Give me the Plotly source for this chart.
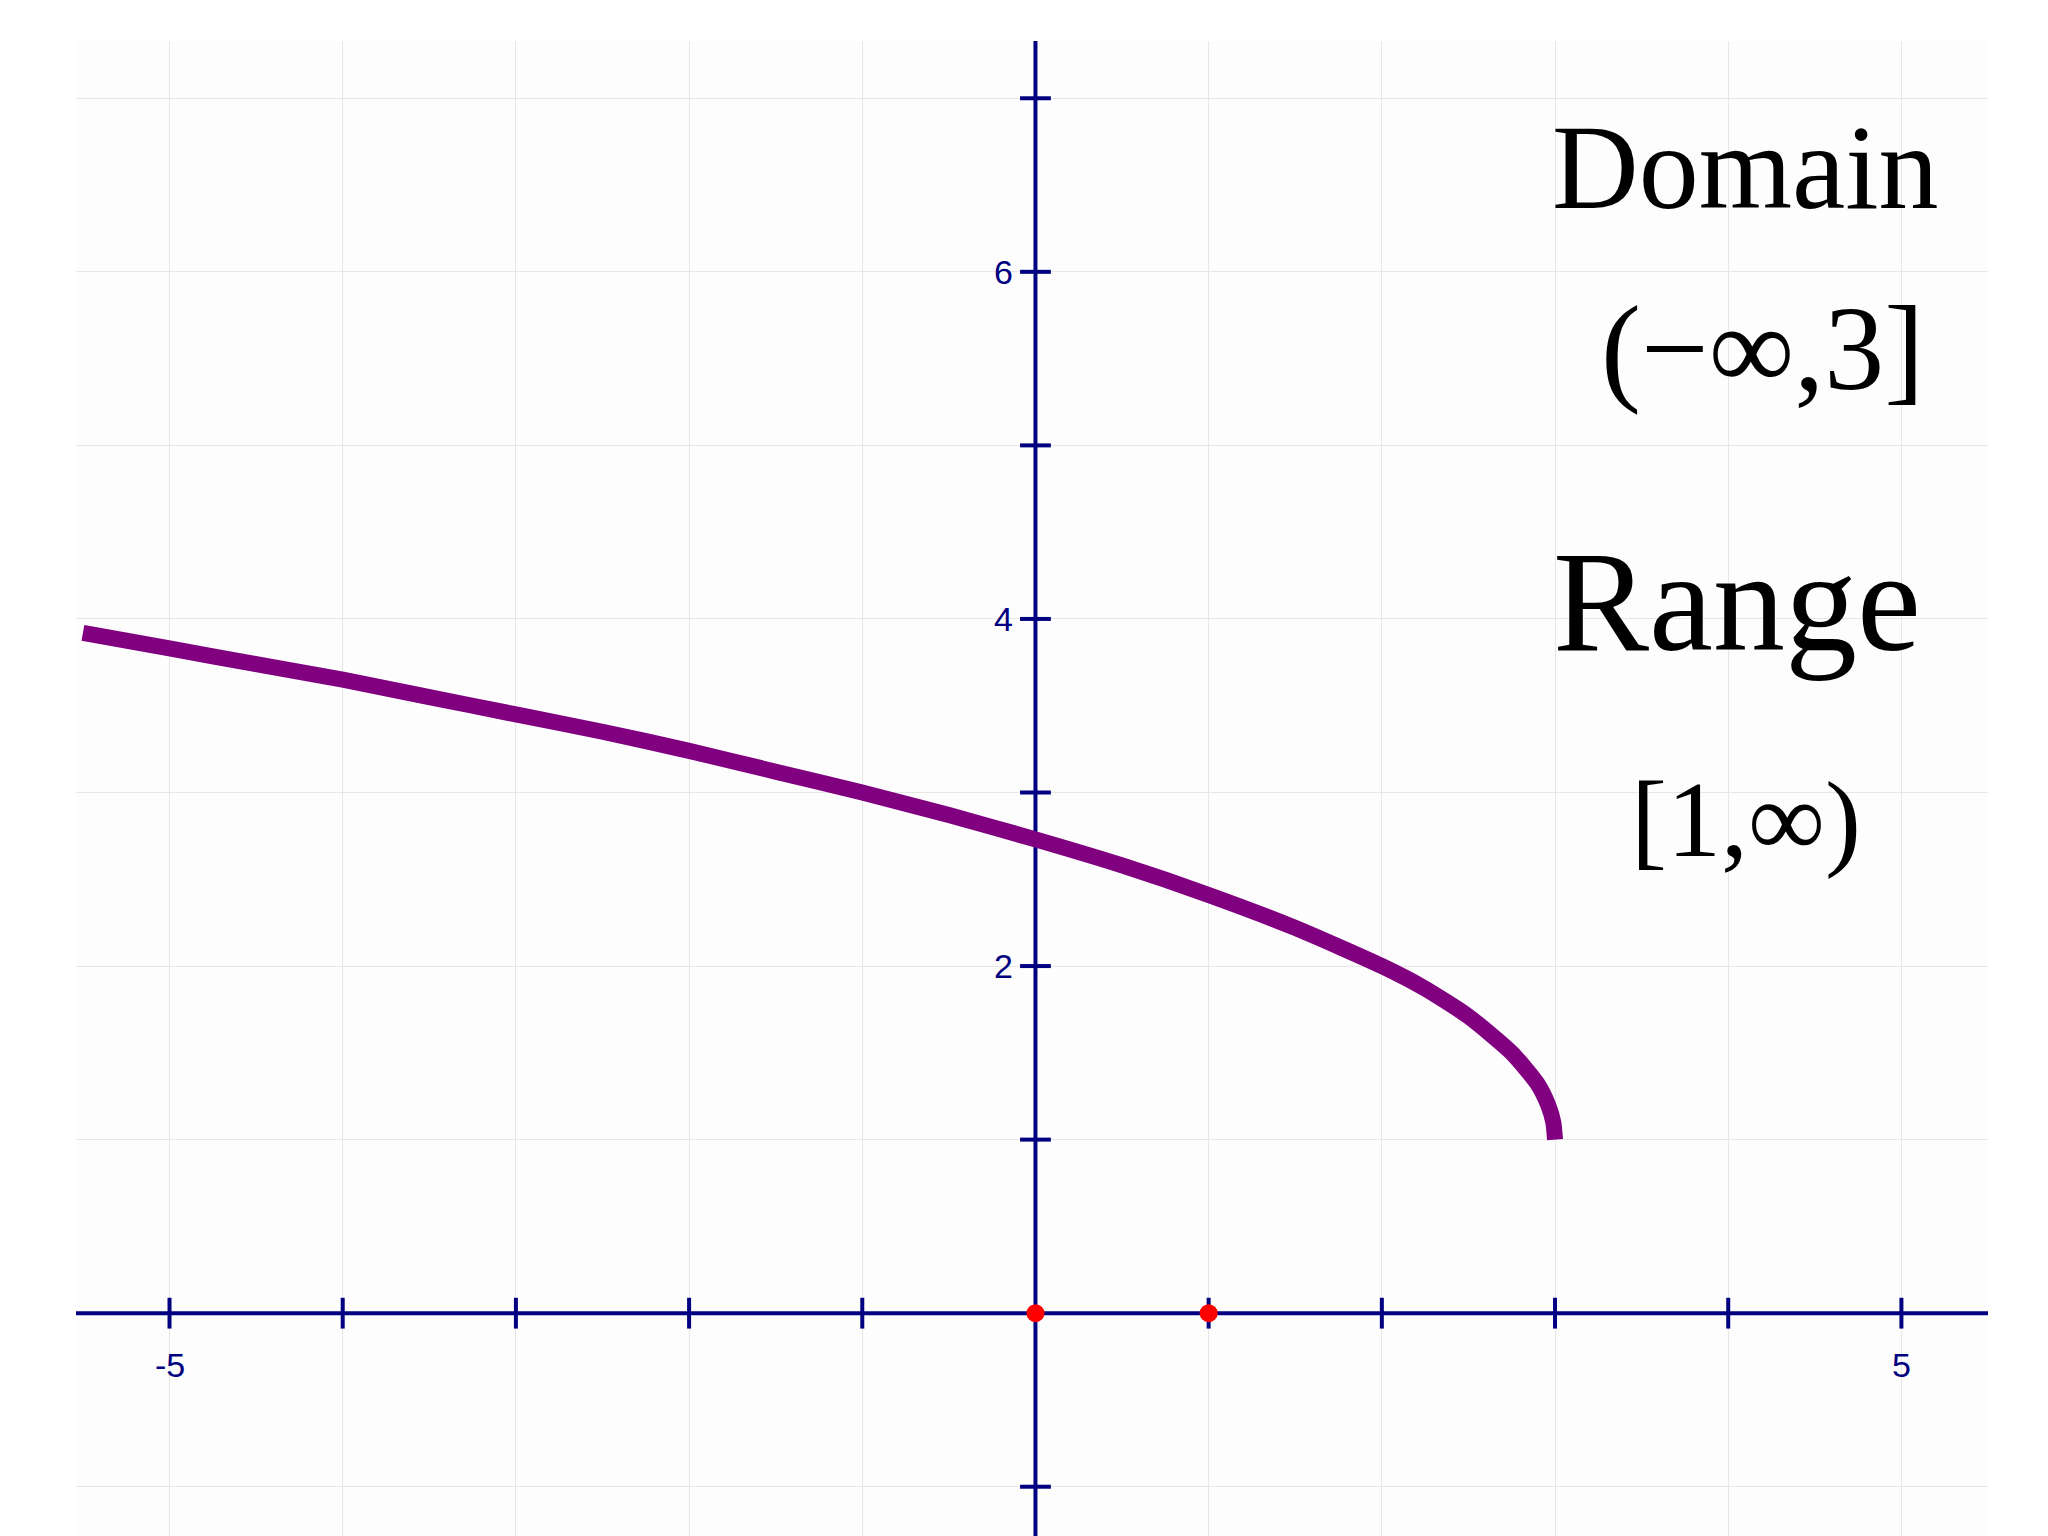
import plotly.graph_objects as go

curve_x = [-5.5,-5,-4.5,-4,-3.5,-3,-2.5,-2,-1.5,-1,-0.5,0,0.5,1,1.5,2,2.25,2.5,2.75,2.9,2.96,2.99,3]
curve_y = [3.92,3.83,3.74,3.65,3.55,3.45,3.35,3.24,3.12,3.00,2.87,2.73,2.58,2.41,2.22,2.00,1.87,1.71,1.50,1.32,1.20,1.10,1.00]
pts_x = [0, 1]
pts_y = [0, 0]
xticks = [-5,-4,-3,-2,-1,1,2,3,4,5]
yticks = [-1,1,2,3,4,5,6,7]
xlabels = {-5: "-5", 5: "5"}
ylabels = {2: "2", 4: "4", 6: "6"}

navy = "#000080"
fig = go.Figure()
fig.add_trace(go.Scatter(x=[-5.54,5.5], y=[0,0], mode="lines", line=dict(color=navy, width=4), hoverinfo="skip"))
fig.add_trace(go.Scatter(x=[0,0], y=[-1.35,7.35], mode="lines", line=dict(color=navy, width=4), hoverinfo="skip"))
fig.add_trace(go.Scatter(x=xticks, y=[0]*len(xticks), mode="markers",
    marker=dict(symbol="line-ns", size=22, line=dict(color=navy, width=4))))
fig.add_trace(go.Scatter(x=[0]*len(yticks), y=yticks, mode="markers",
    marker=dict(symbol="line-ew", size=22, line=dict(color=navy, width=4))))
fig.add_trace(go.Scatter(x=curve_x, y=curve_y, mode="lines", line=dict(color="#800080", width=16, shape="spline", smoothing=0.6)))
fig.add_trace(go.Scatter(x=pts_x, y=pts_y, mode="markers", marker=dict(color="red", size=18)))

for k, t in xlabels.items():
    fig.add_annotation(x=k, y=-0.3, text=t, showarrow=False, font=dict(size=34, color=navy, family="Liberation Sans"))
for k, t in ylabels.items():
    fig.add_annotation(x=-0.12, y=k, text=t, showarrow=False, xanchor="right", font=dict(size=34, color=navy, family="Liberation Sans"))

serif = "Liberation Serif"
fig.add_annotation(x=4.1, y=6.6, text="Domain", showarrow=False, font=dict(size=120, family=serif, color="black"))
fig.add_annotation(x=4.2, y=5.56, text="(−∞,3]", showarrow=False, font=dict(size=120, family=serif, color="black"))
fig.add_annotation(x=4.05, y=4.1, text="Range", showarrow=False, font=dict(size=144, family=serif, color="black"))
fig.add_annotation(x=4.1, y=2.84, text="[1,∞)", showarrow=False, font=dict(size=108, family=serif, color="black"))

fig.update_layout(width=2048, height=1536, showlegend=False,
    margin=dict(l=68, r=68, t=33, b=0), paper_bgcolor="white", plot_bgcolor="#fdfdfd")
fig.update_xaxes(range=[-5.54,5.5], tickvals=list(range(-5,6)), showticklabels=False,
    showgrid=True, gridcolor="#e6e6e6", zeroline=False, showline=False)
fig.update_yaxes(range=[-1.33,7.33], tickvals=list(range(-1,8)), showticklabels=False,
    showgrid=True, gridcolor="#e6e6e6", zeroline=False, showline=False)
fig.write_html("out.html")
